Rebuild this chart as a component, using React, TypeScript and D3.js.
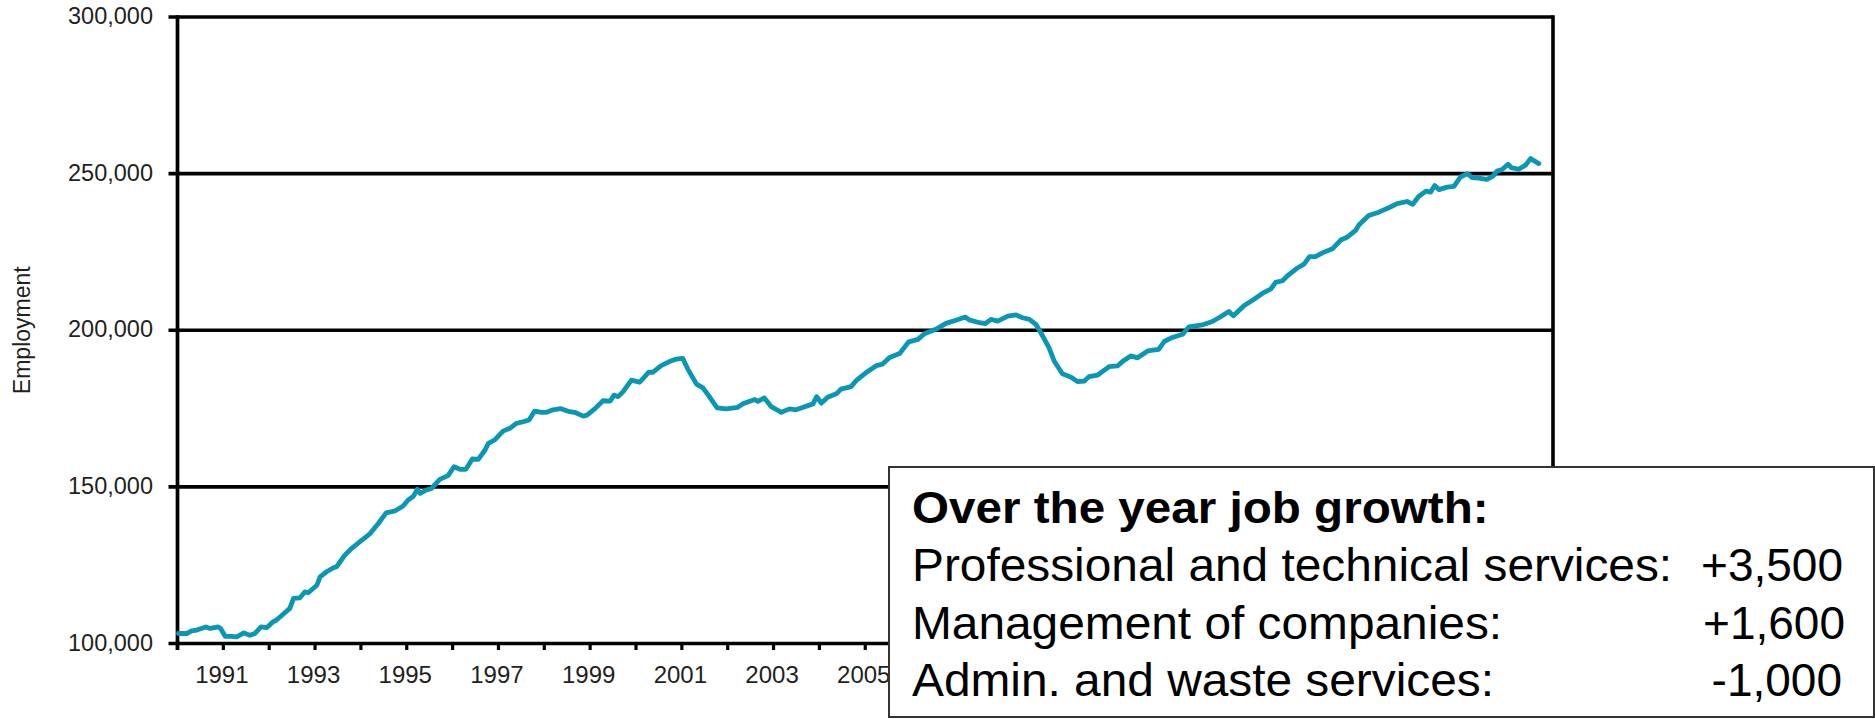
import React from "react";
import * as d3 from "d3";

// decimal year of each reading
const years: number[] = [
  1990.02, 1990.2, 1990.31, 1990.42, 1990.62, 1990.71, 1990.89, 1990.94, 1991.04, 1991.18,
  1991.29, 1991.45, 1991.58, 1991.69, 1991.82, 1991.95, 1992.08, 1992.16, 1992.31, 1992.45,
  1992.53, 1992.67, 1992.78, 1992.85, 1993.04, 1993.11, 1993.25, 1993.4, 1993.47, 1993.65,
  1993.8, 1993.98, 1994.2, 1994.38, 1994.55, 1994.74, 1994.92, 1995.03, 1995.14, 1995.23,
  1995.29, 1995.43, 1995.54, 1995.72, 1995.9, 1996.03, 1996.16, 1996.29, 1996.43, 1996.56,
  1996.7, 1996.78, 1996.92, 1997.1, 1997.25, 1997.39, 1997.54, 1997.67, 1997.79, 1997.94,
  1998.05, 1998.19, 1998.35, 1998.55, 1998.66, 1998.85, 1998.93, 1999.1, 1999.28, 1999.44,
  1999.52, 1999.61, 1999.72, 1999.9, 2000.08, 2000.28, 2000.37, 2000.55, 2000.73, 2000.88,
  2001.02, 2001.13, 2001.32, 2001.46, 2001.61, 2001.77, 2001.97, 2002.22, 2002.33, 2002.59,
  2002.66, 2002.8, 2002.95, 2003.17, 2003.35, 2003.49, 2003.68, 2003.86, 2003.94, 2004.04,
  2004.18, 2004.37, 2004.47, 2004.69, 2004.8, 2005.02, 2005.24, 2005.38, 2005.53, 2005.75,
  2005.95, 2006.15, 2006.29, 2006.54, 2006.76, 2006.98, 2007.18, 2007.27, 2007.49, 2007.62,
  2007.74, 2007.89, 2008.11, 2008.29, 2008.43, 2008.58, 2008.72, 2008.8, 2009.01, 2009.12,
  2009.3, 2009.49, 2009.63, 2009.78, 2009.88, 2010.07, 2010.32, 2010.5, 2010.61, 2010.79,
  2010.94, 2011.16, 2011.4, 2011.52, 2011.7, 2011.92, 2012.06, 2012.35, 2012.57, 2012.75,
  2012.93, 2013.03, 2013.26, 2013.48, 2013.7, 2013.84, 2013.95, 2014.1, 2014.21, 2014.42,
  2014.57, 2014.69, 2014.82, 2014.97, 2015.19, 2015.37, 2015.51, 2015.69, 2015.77, 2015.98,
  2016.2, 2016.42, 2016.6, 2016.82, 2016.94, 2017.07, 2017.23, 2017.33, 2017.42, 2017.51,
  2017.69, 2017.84, 2017.98, 2018.13, 2018.24, 2018.38, 2018.56, 2018.69, 2018.78, 2018.89,
  2019.02, 2019.09, 2019.25, 2019.4, 2019.51, 2019.69,
];

const employment: number[] = [
  103200, 103200, 104000, 104300, 105300, 104800, 105300, 104800, 102300, 102300,
  102100, 103400, 102600, 103200, 105300, 105100, 106900, 107500, 109400, 111200,
  114400, 114600, 116500, 116200, 118600, 121300, 122900, 124200, 124500, 128200,
  130400, 132500, 135100, 138300, 141700, 142300, 143900, 145800, 146900, 149200,
  147900, 149000, 149500, 152400, 153600, 156400, 155600, 155600, 158900, 158800,
  161600, 163900, 165000, 167800, 168700, 170300, 170800, 171400, 174200, 173800,
  173800, 174600, 175000, 174000, 173800, 172600, 172900, 174900, 177500, 177400,
  179300, 178800, 180400, 184100, 183400, 186600, 186600, 188700, 190000, 190800,
  191000, 187600, 182800, 181600, 178600, 175200, 174900, 175400, 176500, 177900,
  177300, 178400, 175600, 173800, 174900, 174600, 175600, 176500, 178800, 176700,
  178600, 179700, 181200, 182000, 183900, 186500, 188700, 189200, 191300, 192600,
  196300, 197100, 198900, 200300, 202200, 203200, 204200, 203300, 202400, 202100,
  203500, 202900, 204500, 204900, 204000, 203500, 201900, 200000, 194400, 190200,
  186100, 185000, 183600, 183800, 185200, 185700, 188400, 188600, 190000, 191800,
  191200, 193400, 193900, 196400, 197700, 198700, 201100, 201700, 202800, 204300,
  206000, 204600, 207800, 209900, 212100, 213100, 215300, 215800, 217400, 219800,
  221100, 223500, 223500, 224700, 226000, 228800, 229700, 231800, 233700, 236600,
  237700, 239100, 240400, 241100, 240200, 242700, 244400, 244100, 246200, 244900,
  245700, 245900, 248900, 250000, 248700, 248600, 248200, 249200, 250800, 251300,
  253000, 251900, 251400, 252700, 254800, 253200,
];

const yTicks: number[] = [100000, 150000, 200000, 250000, 300000];
const xTickYears: number[] = d3.range(1990, 2021);
const xLabelYears: number[] = [1991, 1993, 1995, 1997, 1999, 2001, 2003, 2005, 2007, 2009, 2011, 2013, 2015, 2017, 2019];

const boxTitle = "Over the year job growth:";
const boxLabels: string[] = [
  "Professional and technical services:",
  "Management of companies:",
  "Admin. and waste services:",
];
const boxValues: string[] = ["+3,500", "+1,600", "-1,000"];

const W = 1875;
const H = 719;
const LEFT = 177.5;
const RIGHT = 1553;
const TOP = 17;
const BOTTOM = 643.5;
const FONT = "'Liberation Sans', Arial, Helvetica, sans-serif";
const TEXT = "#231f20";
const LINE = "#0997b5";

export default function App() {
  const x = d3.scaleLinear().domain([1990, 2020]).range([LEFT, RIGHT]);
  const y = d3.scaleLinear().domain([100000, 300000]).range([BOTTOM, TOP]);
  const fmt = d3.format(",");
  const pts = years.map((yr, i) => [yr, employment[i]] as [number, number]);
  const path = d3
    .line<[number, number]>()
    .x((d) => x(d[0]))
    .y((d) => y(d[1]))(pts) as string;

  const boxX = 889;
  const boxY = 467;
  const lineYs = [523, 581, 639, 696];
  // labels hidden under the annotation box are not drawn
  const visibleLabels = xLabelYears.filter((yr) => x(yr) < boxX + 10);

  return (
    <div style={{ position: "fixed", left: 0, top: 0, background: "#fff" }}>
      <svg width={W} height={H} style={{ display: "block" }} fontFamily={FONT}>
        <rect x={0} y={0} width={W} height={H} fill="#fff" />
        {/* gridlines */}
        {yTicks.map((t) => (
          <line key={"g" + t} x1={LEFT - 9} x2={RIGHT} y1={y(t)} y2={y(t)} stroke="#000" strokeWidth={3.6} />
        ))}
        {/* left and right axes */}
        <line x1={LEFT} x2={LEFT} y1={TOP - 1.8} y2={BOTTOM + 6.5} stroke="#000" strokeWidth={3.7} />
        <line x1={RIGHT} x2={RIGHT} y1={TOP - 1.8} y2={BOTTOM + 1.8} stroke="#000" strokeWidth={3.6} />
        {/* x ticks */}
        {xTickYears.map((yr) => (
          <line key={"t" + yr} x1={x(yr)} x2={x(yr)} y1={BOTTOM} y2={BOTTOM + 6.5} stroke="#000" strokeWidth={3.2} />
        ))}
        {/* y labels */}
        {yTicks.map((t) => (
          <text key={"yl" + t} x={153} y={y(t) + 7} textAnchor="end" fontSize={23.5} fill={TEXT}>
            {fmt(t)}
          </text>
        ))}
        {/* x labels */}
        {visibleLabels.map((yr) => (
          <text key={"xl" + yr} x={x(yr) - 1.5} y={683} textAnchor="middle" fontSize={24} fill={TEXT}>
            {yr}
          </text>
        ))}
        {/* axis title */}
        <text
          transform={`translate(30,${(TOP + BOTTOM) / 2}) rotate(-90)`}
          textAnchor="middle"
          fontSize={23}
          fill={TEXT}
        >
          Employment
        </text>
        {/* data line */}
        <path d={path} fill="none" stroke={LINE} strokeWidth={4.8} strokeLinejoin="round" strokeLinecap="round" />
        {/* annotation box */}
        <rect x={boxX} y={boxY} width={W - boxX - 1} height={H - boxY - 2} fill="#fff" stroke="#333" strokeWidth={2} />
        <text transform={`translate(912,${lineYs[0]}) scale(1.058,1)`} fontSize={45} fontWeight="bold" fill="#000">
          {boxTitle}
        </text>
        {boxLabels.map((lab, i) => (
          <text key={"bl" + i} transform={`translate(912,${lineYs[i + 1]}) scale(1.04,1)`} fontSize={46} fill="#000">
            {lab}
          </text>
        ))}
        {boxValues.map((v, i) => (
          <text key={"bv" + i} x={[1843, 1845, 1842][i]} y={lineYs[i + 1]} fontSize={46} textAnchor="end" fill="#000">
            {v}
          </text>
        ))}
      </svg>
    </div>
  );
}
